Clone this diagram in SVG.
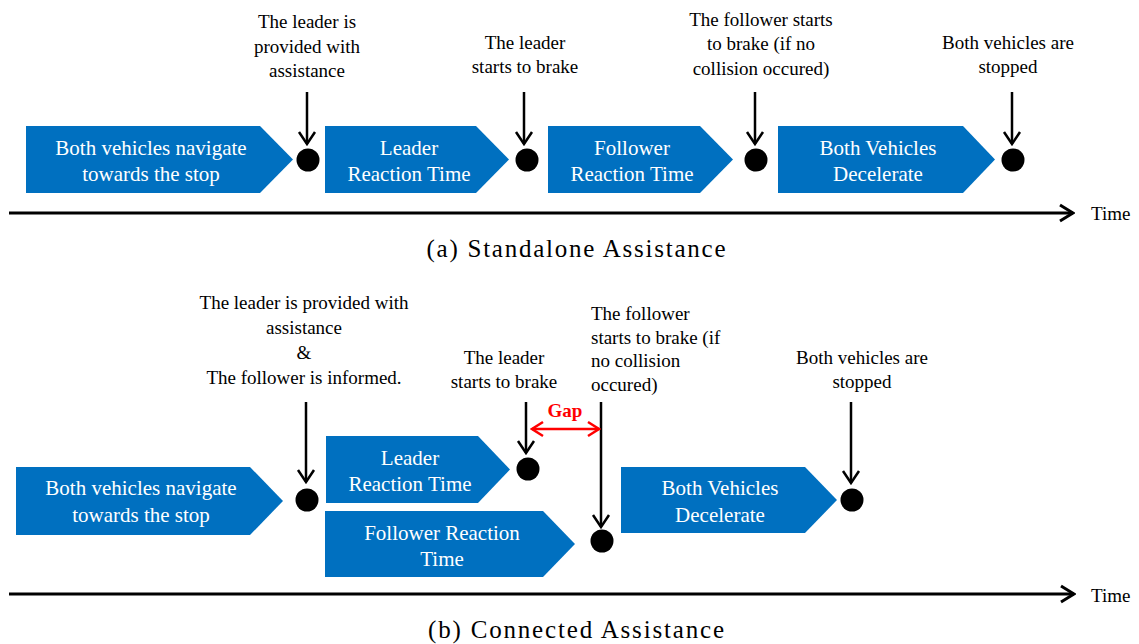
<svg xmlns="http://www.w3.org/2000/svg" width="1139" height="644" viewBox="0 0 1139 644" font-family="Liberation Serif, Times New Roman, serif">
<defs>
<style>
.shape{fill:#0070C0;}
.dot{fill:#000;}
.lbl{font-size:19px;fill:#000;}
.mid{text-anchor:middle;}
.box{font-size:21px;fill:#fff;text-anchor:middle;}
.cap{font-size:25px;fill:#000;text-anchor:middle;}
.gap{font-size:19px;font-weight:bold;fill:#f00;text-anchor:middle;}
.ptr{stroke:#000;stroke-width:2.5;fill:none;marker-end:url(#ah);}
.axis{stroke:#000;stroke-width:3;fill:none;marker-end:url(#ahb);}
.red{stroke:#f00;stroke-width:2.5;fill:none;marker-start:url(#ahr);marker-end:url(#ahr);}
</style>
<marker id="ah" viewBox="-14 -11 16 22" markerWidth="16" markerHeight="22" refX="0" refY="0" markerUnits="userSpaceOnUse" orient="auto">
<path d="M-12,-8 L0,0 L-12,8" fill="none" stroke="#000" stroke-width="2.5"/>
</marker>
<marker id="ahb" viewBox="-16 -11 18 22" markerWidth="18" markerHeight="22" refX="0" refY="0" markerUnits="userSpaceOnUse" orient="auto">
<path d="M-13,-8 L0,0 L-13,8" fill="none" stroke="#000" stroke-width="3"/>
</marker>
<marker id="ahr" viewBox="-14 -11 16 22" markerWidth="16" markerHeight="22" refX="0" refY="0" markerUnits="userSpaceOnUse" orient="auto-start-reverse">
<path d="M-11,-7 L0,0 L-11,7" fill="none" stroke="#f00" stroke-width="2.5"/>
</marker>
</defs>
<rect width="1139" height="644" fill="#fff"/>

<!-- (a) Standalone -->
<g id="a-navigate">
<path class="shape" d="M26,126 H260 L293,159.5 L260,193 H26 Z"/>
<text class="box" x="151" y="155">Both vehicles navigate</text>
<text class="box" x="151" y="181">towards the stop</text>
</g>
<g id="a-leader-rt">
<path class="shape" d="M325,126 H476 L509,159.5 L476,193 H325 Z"/>
<text class="box" x="409" y="155">Leader</text>
<text class="box" x="409" y="181">Reaction Time</text>
</g>
<g id="a-follower-rt">
<path class="shape" d="M548,126 H700 L733,159.5 L700,193 H548 Z"/>
<text class="box" x="632" y="155">Follower</text>
<text class="box" x="632" y="181">Reaction Time</text>
</g>
<g id="a-decelerate">
<path class="shape" d="M778,126 H963 L995,159.5 L963,193 H778 Z"/>
<text class="box" x="878" y="155">Both Vehicles</text>
<text class="box" x="878" y="181">Decelerate</text>
</g>
<g id="a-ev1">
<circle class="dot" cx="308" cy="160" r="11.5"/>
<text class="lbl mid" x="307" y="28">The leader is</text>
<text class="lbl mid" x="307" y="53">provided with</text>
<text class="lbl mid" x="307" y="77">assistance</text>
</g>
<g id="a-ev2">
<circle class="dot" cx="527" cy="160" r="11.5"/>
<text class="lbl mid" x="525" y="49">The leader</text>
<text class="lbl mid" x="525" y="73">starts to brake</text>
</g>
<g id="a-ev3">
<circle class="dot" cx="756" cy="160" r="11.5"/>
<text class="lbl mid" x="761" y="26">The follower starts</text>
<text class="lbl mid" x="761" y="50">to brake (if no</text>
<text class="lbl mid" x="761" y="75">collision occured)</text>
</g>
<g id="a-ev4">
<circle class="dot" cx="1013" cy="160" r="11.5"/>
<text class="lbl mid" x="1008" y="49">Both vehicles are</text>
<text class="lbl mid" x="1008" y="73">stopped</text>
</g>
<g id="a-axis">
<text class="lbl" x="1091" y="220">Time</text>
</g>
<text class="cap" x="576" y="257" textLength="299" lengthAdjust="spacing">(a) Standalone Assistance</text>

<!-- (b) Connected -->
<g id="b-navigate">
<path class="shape" d="M16,467 H250 L283,501 L250,535 H16 Z"/>
<text class="box" x="141" y="495">Both vehicles navigate</text>
<text class="box" x="141" y="522">towards the stop</text>
</g>
<g id="b-leader-rt">
<path class="shape" d="M326,436 H478 L510,469.5 L478,503 H326 Z"/>
<text class="box" x="410" y="465">Leader</text>
<text class="box" x="410" y="491">Reaction Time</text>
</g>
<g id="b-follower-rt">
<path class="shape" d="M325,511 H543 L575,544 L543,577 H325 Z"/>
<text class="box" x="442" y="540">Follower Reaction</text>
<text class="box" x="442" y="566">Time</text>
</g>
<g id="b-decelerate">
<path class="shape" d="M621,467 H805 L837,500 L805,533 H621 Z"/>
<text class="box" x="720" y="495">Both Vehicles</text>
<text class="box" x="720" y="522">Decelerate</text>
</g>
<g id="b-ev1">
<circle class="dot" cx="307" cy="500" r="11.5"/>
<text class="lbl mid" x="304" y="309">The leader is provided with</text>
<text class="lbl mid" x="304" y="334">assistance</text>
<text class="lbl mid" x="304" y="359">&amp;</text>
<text class="lbl mid" x="304" y="384">The follower is informed.</text>
</g>
<g id="b-ev2">
<circle class="dot" cx="528" cy="469" r="11.5"/>
<text class="lbl mid" x="504" y="364">The leader</text>
<text class="lbl mid" x="504" y="388">starts to brake</text>
</g>
<g id="b-ev3">
<circle class="dot" cx="602" cy="541" r="11.5"/>
<text class="lbl" x="591" y="320">The follower</text>
<text class="lbl" x="591" y="344">starts to brake (if</text>
<text class="lbl" x="591" y="367">no collision</text>
<text class="lbl" x="591" y="391">occured)</text>
</g>
<g id="b-ev4">
<circle class="dot" cx="852" cy="500" r="11.5"/>
<text class="lbl mid" x="862" y="364">Both vehicles are</text>
<text class="lbl mid" x="862" y="388">stopped</text>
</g>
<g id="b-gap">
<text class="gap" x="565" y="417">Gap</text>
</g>
<g id="b-axis">
<text class="lbl" x="1091" y="602">Time</text>
</g>
<text class="cap" x="576" y="638" textLength="296" lengthAdjust="spacing">(b) Connected Assistance</text>

<g id="connectors">
<line class="ptr" x1="307" y1="92" x2="307" y2="144"/>
<line class="ptr" x1="524" y1="92" x2="524" y2="144"/>
<line class="ptr" x1="755" y1="92" x2="755" y2="144"/>
<line class="ptr" x1="1012" y1="92" x2="1012" y2="144"/>
<line class="axis" x1="9" y1="213" x2="1073" y2="213"/>
<line class="ptr" x1="306" y1="402" x2="306" y2="482"/>
<line class="ptr" x1="526" y1="402" x2="526" y2="453"/>
<line class="ptr" x1="601" y1="402" x2="601" y2="527"/>
<line class="ptr" x1="851" y1="402" x2="851" y2="483"/>
<line class="red" x1="532" y1="429" x2="599" y2="429"/>
<line class="axis" x1="9" y1="594" x2="1074" y2="594"/>
</g>
</svg>
